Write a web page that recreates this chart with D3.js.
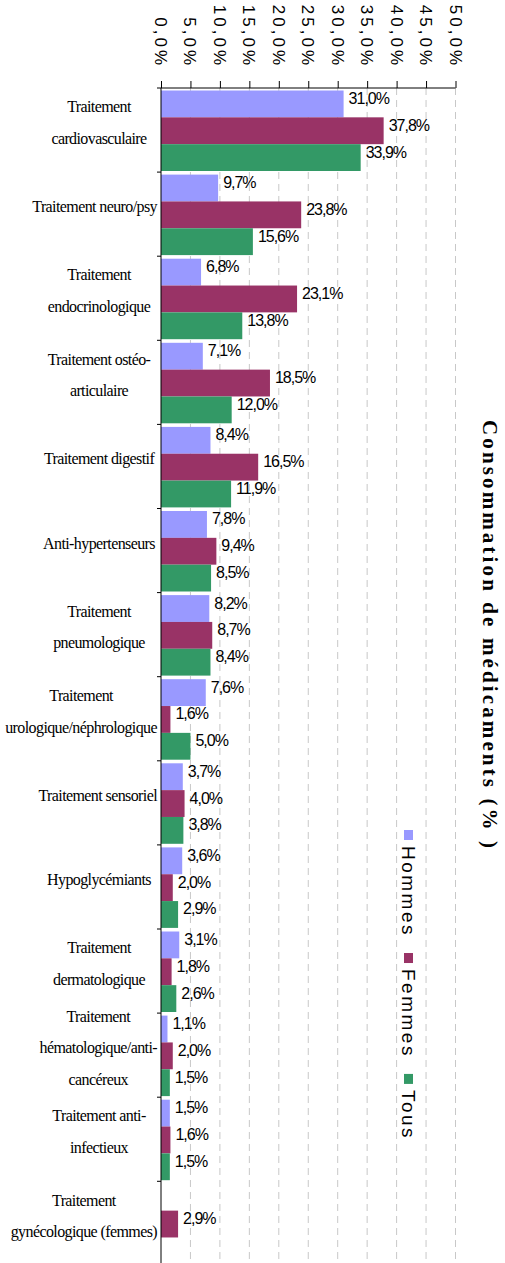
<!DOCTYPE html>
<html>
<head>
<meta charset="utf-8">
<script src="https://cdn.jsdelivr.net/npm/d3@7"></script>
<style>
  body { margin: 0; background: #fff; }
  svg { display: block; }
</style>
</head>
<body>
<div id="chart"></div>
<script>
// categories (line breaks as in the original labels)
var categories = [
    "Traitement\ncardiovasculaire",
    "Traitement neuro/psy",
    "Traitement\nendocrinologique",
    "Traitement ostéo-\narticulaire",
    "Traitement digestif",
    "Anti-hypertenseurs",
    "Traitement\npneumologique",
    "Traitement\nurologique/néphrologique",
    "Traitement sensoriel",
    "Hypoglycémiants",
    "Traitement\ndermatologique",
    "Traitement\nhématologique/anti-\ncancéreux",
    "Traitement anti-\ninfectieux",
    "Traitement\ngynécologique (femmes)"
];
var hommes = [31.0, 9.7, 6.8, 7.1, 8.4, 7.8, 8.2, 7.6, 3.7, 3.6, 3.1, 1.1, 1.5, null];
var femmes = [37.8, 23.8, 23.1, 18.5, 16.5, 9.4, 8.7, 1.6, 4.0, 2.0, 1.8, 2.0, 1.6, 2.9];
var tous = [33.9, 15.6, 13.8, 12.0, 11.9, 8.5, 8.4, 5.0, 3.8, 2.9, 2.6, 1.5, 1.5, null];
var seriesNames = ["Hommes", "Femmes", "Tous"];
var xTicks = [0, 5, 10, 15, 20, 25, 30, 35, 40, 45, 50];
var title = "Consommation de médicaments (% )";

var colors = {Hommes: "#9999ff", Femmes: "#993366", Tous: "#339966"};
var seriesValues = {Hommes: hommes, Femmes: femmes, Tous: tous};

var width = 505, height = 1263;
var marginLeft = 161, marginTop = 88;

var svg = d3.select("#chart").append("svg")
    .attr("width", width)
    .attr("height", height);

// scales
var x = d3.scaleLinear().domain([0, 50]).range([marginLeft, 455.5]);
var y0 = d3.scaleBand().domain(categories).range([marginTop, marginTop + 14 * 84.1]);
var y1 = d3.scaleBand().domain(seriesNames).range([2.5, 83]);

var fmt = function(v) {
    return d3.format(".1f")(v).replace(".", ",") + "%";
};

// dashed grid lines
svg.append("g")
    .selectAll("line")
    .data(xTicks.slice(1))
    .enter().append("line")
    .attr("x1", function(d) { return x(d); })
    .attr("x2", function(d) { return x(d); })
    .attr("y1", marginTop)
    .attr("y2", height)
    .attr("stroke", "#c8c8c8")
    .attr("stroke-width", 1)
    .attr("stroke-dasharray", "7,5");

// bars
var rows = categories.map(function(c, i) {
    return {cat: c, vals: seriesNames.map(function(s) {
        return {key: s, value: seriesValues[s][i]};
    }).filter(function(d) { return d.value != null; })};
});

var groups = svg.append("g")
    .selectAll("g")
    .data(rows)
    .enter().append("g")
    .attr("transform", function(d) { return "translate(0," + y0(d.cat) + ")"; });

groups.selectAll("rect")
    .data(function(d) { return d.vals; })
    .enter().append("rect")
    .attr("x", x(0))
    .attr("y", function(d) { return y1(d.key); })
    .attr("width", function(d) { return x(d.value) - x(0); })
    .attr("height", y1.bandwidth())
    .attr("fill", function(d) { return colors[d.key]; });

groups.selectAll("text")
    .data(function(d) { return d.vals; })
    .enter().append("text")
    .attr("x", function(d) { return x(d.value) + 5; })
    .attr("y", function(d) { return y1(d.key) + y1.bandwidth() / 2; })
    .attr("font-family", "Liberation Sans, Arial, sans-serif")
    .attr("font-size", "16px")
    .attr("letter-spacing", "-1px")
    .attr("fill", "#000")
    .text(function(d) { return fmt(d.value); });

// top axis
var xAxis = svg.append("g")
    .attr("transform", "translate(0," + marginTop + ")")
    .call(d3.axisTop(x).tickValues(xTicks).tickSize(7).tickFormat(""));
xAxis.select(".domain").attr("stroke", "#000").attr("d", "M" + x(0) + ",0H" + x(50));
xAxis.selectAll(".tick line").attr("stroke", "#000");

svg.append("g")
    .selectAll("text")
    .data(xTicks)
    .enter().append("text")
    .attr("transform", function(d) { return "translate(" + x(d) + ",68) rotate(90)"; })
    .attr("text-anchor", "end")
    .attr("dy", "0.35em")
    .attr("font-family", "Liberation Sans, Arial, sans-serif")
    .attr("font-size", "17px")
    .attr("letter-spacing", "3px")
    .attr("fill", "#000")
    .text(function(d) { return fmt(d); });

// left axis with ticks at category boundaries
var yAxis = svg.append("g");
yAxis.append("line")
    .attr("x1", marginLeft).attr("x2", marginLeft)
    .attr("y1", marginTop).attr("y2", height)
    .attr("stroke", "#000");
yAxis.selectAll(".sep")
    .data(categories)
    .enter().append("line")
    .attr("class", "sep")
    .attr("x1", marginLeft - 4).attr("x2", marginLeft)
    .attr("y1", function(d) { return y0(d); })
    .attr("y2", function(d) { return y0(d); })
    .attr("stroke", "#000");

// category labels
var lineGap = 31.6;
var labels = svg.append("g")
    .selectAll("text")
    .data(categories)
    .enter().append("text")
    .attr("font-family", "Liberation Serif, Times New Roman, serif")
    .attr("font-size", "16px")
    .attr("letter-spacing", "-0.6px")
    .attr("fill", "#000")
    .attr("text-anchor", "middle");

labels.each(function(c) {
    var t = d3.select(this);
    var lines = c.split("\n");
    var cy = y0(c) + y0.bandwidth() / 2 - 2;
    lines.forEach(function(l, i) {
        t.append("tspan")
            .attr("y", cy + (i - (lines.length - 1) / 2) * lineGap)
            .text(l);
    });
    var w = 0;
    t.selectAll("tspan").each(function() {
        w = Math.max(w, this.getComputedTextLength());
    });
    var cx = Math.min(99, 157 - w / 2);
    t.selectAll("tspan").attr("x", cx);
});

// title
svg.append("text")
    .attr("transform", "translate(490,634) rotate(90)")
    .attr("text-anchor", "middle")
    .attr("dy", "0.35em")
    .attr("font-family", "Liberation Serif, Times New Roman, serif")
    .attr("font-weight", "bold")
    .attr("font-size", "21px")
    .attr("textLength", 428)
    .attr("lengthAdjust", "spacing")
    .text(title);

// legend
var legend = svg.append("g");
var ly = 830;
seriesNames.forEach(function(s) {
    legend.append("rect")
        .attr("x", 404).attr("y", ly)
        .attr("width", 9).attr("height", 10)
        .attr("fill", colors[s]);
    var t = legend.append("text")
        .attr("transform", "translate(409," + (ly + 16) + ") rotate(90)")
        .attr("dy", "0.35em")
        .attr("font-family", "Liberation Sans, Arial, sans-serif")
        .attr("font-size", "19px")
        .attr("letter-spacing", "2.5px")
        .attr("fill", "#000")
        .text(s);
    ly += 16 + t.node().getComputedTextLength() + 16;
});
</script>
</body>
</html>
